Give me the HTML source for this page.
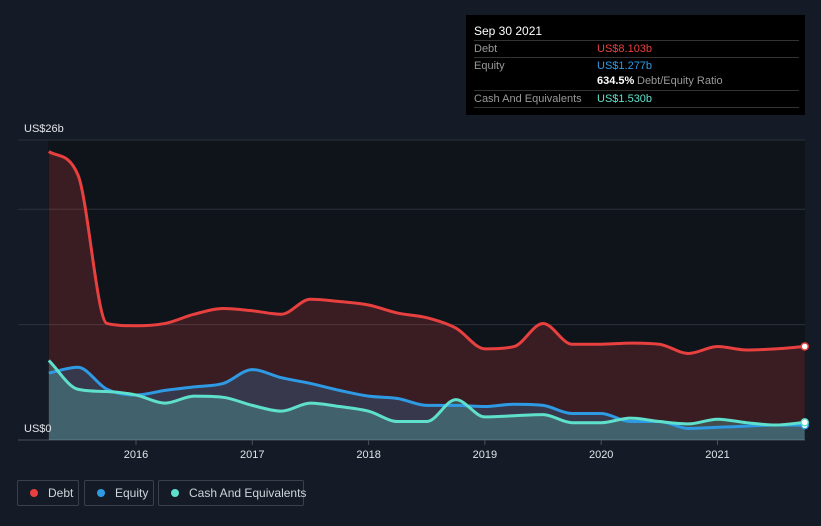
<!DOCTYPE html>
<html><head><meta charset="utf-8"><style>
body{margin:0;background:#151b26;font-family:"Liberation Sans",sans-serif;}
#wrap{position:relative;width:821px;height:526px;overflow:hidden;background:#151b26;}
svg{position:absolute;left:0;top:0;}
.tip{position:absolute;left:466px;top:15px;width:339px;height:100px;background:#000;color:#fff;font-size:11px;}
.tip .row{position:absolute;left:8px;width:325px;border-top:1px solid #333;height:16px;line-height:16px;color:#999;}
.legend{position:absolute;top:480px;height:26px;border:1px solid #3a414c;border-radius:2px;color:#cfd3da;font-size:12px;line-height:24px;box-sizing:border-box;white-space:nowrap;}
.legend span.dot{display:inline-block;width:8px;height:8px;border-radius:50%;margin:0 10px 0 12px;vertical-align:0px;}
</style></head><body>
<div id="wrap">
<svg id="chart" width="821" height="526"></svg>
<div class="tip">
 <div style="position:absolute;left:8px;top:9px;font-size:12px;color:#fff">Sep 30 2021</div>
 <div class="row" style="top:25px">Debt<span style="position:absolute;left:123px;color:#e8403f">US$8.103b</span></div>
 <div class="row" style="top:42px">Equity<span style="position:absolute;left:123px;color:#2f9ae4">US$1.277b</span></div>
 <div class="row" style="top:58px;border-top:none"><span style="position:absolute;left:123px;color:#fff;font-weight:bold">634.5%</span><span style="position:absolute;left:163px;color:#999">Debt/Equity Ratio</span></div>
 <div class="row" style="top:75px;border-bottom:1px solid #333">Cash And Equivalents<span style="position:absolute;left:123px;color:#5fe0cc">US$1.530b</span></div>
</div>
<div class="legend" style="left:17px;width:62px"><span class="dot" style="background:#e8403f"></span>Debt</div>
<div class="legend" style="left:84px;width:70px"><span class="dot" style="background:#2f9ae4"></span>Equity</div>
<div class="legend" style="left:158px;width:146px"><span class="dot" style="background:#5fe0cc"></span>Cash And Equivalents</div>
</div>
<script>
const yearLabels=["2016","2017","2018","2019","2020","2021"];
const debt=[25.0,23.0,10.1,9.9,10.1,10.9,11.4,11.2,10.9,12.2,12.0,11.7,11.0,10.6,9.7,7.9,8.1,10.1,8.3,8.3,8.4,8.3,7.5,8.1,7.8,7.9,8.103];
const equity=[5.8,6.3,4.4,3.9,4.3,4.6,4.9,6.1,5.4,4.9,4.3,3.8,3.6,3.0,3.0,2.9,3.1,3.0,2.3,2.3,1.6,1.6,1.0,1.1,1.2,1.3,1.277];
const cash=[6.9,4.4,4.2,3.9,3.2,3.8,3.7,3.0,2.5,3.2,2.9,2.5,1.6,1.6,3.5,2.0,2.1,2.2,1.5,1.5,1.9,1.6,1.4,1.8,1.5,1.3,1.53];
const startYear=2015.25, qStep=0.25, yMax=26;
const NS="http://www.w3.org/2000/svg";
const svg=document.getElementById('chart');
const xs=t=>136+(t-2016)*116.3;
const ys=v=>440-v*300/yMax;
function mk(tag,attrs){const e=document.createElementNS(NS,tag);for(const k in attrs)e.setAttribute(k,attrs[k]);svg.appendChild(e);return e;}
const bg=mk('rect',{x:48,y:140,width:757,height:300,fill:'#0f141b'});


[0,10,20,26].forEach(v=>{const l=mk('line',{x1:18,x2:805,y1:ys(v),y2:ys(v),stroke:v==0?'#4a515c':'#2c323b','stroke-width':1});

});
function pts(arr){return arr.map((v,i)=>[xs(startYear+i*qStep),ys(v)]);}
function smooth(p){const n=p.length,h=p[1][0]-p[0][0];const s=[],m=[];
for(let i=0;i<n-1;i++)s.push((p[i+1][1]-p[i][1])/h);
for(let i=0;i<n;i++){if(i==0)m.push(s[0]);else if(i==n-1)m.push(s[n-2]);else m.push(s[i-1]*s[i]<=0?0:(s[i-1]+s[i])/2);}
for(let i=0;i<n-1;i++){if(s[i]==0){m[i]=0;m[i+1]=0;continue;}const a=m[i]/s[i],b=m[i+1]/s[i],t=a*a+b*b;if(t>9){const k=3/Math.sqrt(t);m[i]=k*a*s[i];m[i+1]=k*b*s[i];}}
let d=`M${p[0][0]},${p[0][1]}`;
for(let i=0;i<n-1;i++){d+=`C${p[i][0]+h/3},${p[i][1]+m[i]*h/3} ${p[i+1][0]-h/3},${p[i+1][1]-m[i+1]*h/3} ${p[i+1][0]},${p[i+1][1]}`;}return d;}
const series=[[debt,'#e8403f','rgba(232,64,63,0.2)','debt'],[equity,'#2f9ae4','rgba(47,154,228,0.22)','equity'],[cash,'#5fe0cc','rgba(95,224,204,0.25)','cash']];
series.forEach(([arr,col,fill,n])=>{const p=pts(arr);const d=smooth(p);const last=p[p.length-1];
const a=mk('path',{d:d+`L${last[0]},440L${p[0][0]},440Z`,fill:fill});

});
series.forEach(([arr,col,fill,n])=>{const p=pts(arr);
const l=mk('path',{d:smooth(p),fill:'none',stroke:col,'stroke-width':3});


const last=p[p.length-1];
const c=mk('circle',{cx:last[0],cy:last[1],r:3.5,fill:'#fff',stroke:col,'stroke-width':1.5});

});
yearLabels.forEach(y=>{const t=mk('text',{x:xs(+y),y:458,fill:'#e0e3e8','font-size':11,'text-anchor':'middle','font-family':'Liberation Sans, sans-serif'});t.textContent=y;


const tk=mk('line',{x1:xs(+y),x2:xs(+y),y1:440,y2:445,stroke:'#4a515c'});

});
[['US$26b',132],['US$0',432]].forEach(([s,y])=>{const t=mk('text',{x:24,y:y,fill:'#e0e3e8','font-size':11,'font-family':'Liberation Sans, sans-serif'});t.textContent=s;

});
</script>
</body></html>
